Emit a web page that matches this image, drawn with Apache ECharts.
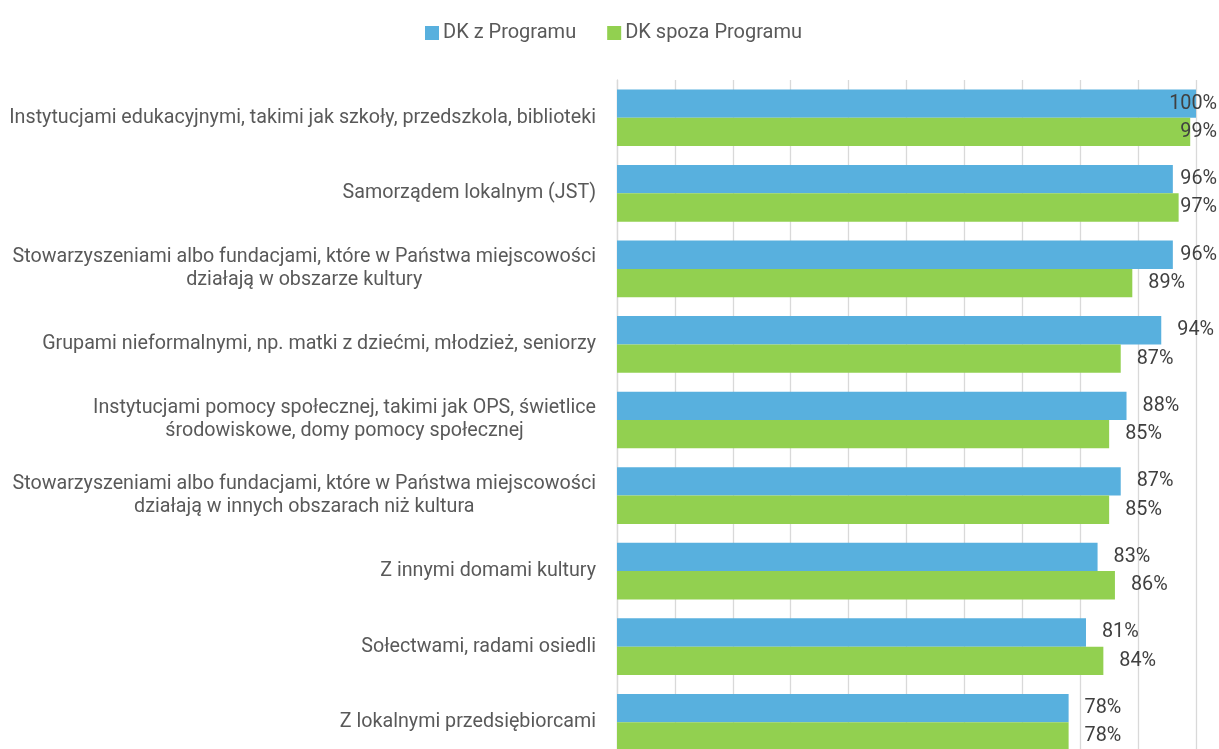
<!DOCTYPE html>
<html>
<head>
<meta charset="utf-8">
<script src="https://cdn.jsdelivr.net/npm/echarts@6/dist/echarts.min.js"></script>
<style>
html,body{margin:0;padding:0;background:#fff;}
#chart{width:1219px;height:749px;}
</style>
</head>
<body>
<div id="chart"></div>
<script>
var seriesNames = ['DK z Programu', 'DK spoza Programu'];
var categories = [
  'Instytucjami edukacyjnymi, takimi jak szkoły, przedszkola, biblioteki',
  'Samorządem lokalnym (JST)',
  'Stowarzyszeniami albo fundacjami, które w Państwa miejscowości\ndziałają w obszarze kultury',
  'Grupami nieformalnymi, np. matki z dziećmi, młodzież, seniorzy',
  'Instytucjami pomocy społecznej, takimi jak OPS, świetlice\nśrodowiskowe, domy pomocy społecznej',
  'Stowarzyszeniami albo fundacjami, które w Państwa miejscowości\ndziałają w innych obszarach niż kultura',
  'Z innymi domami kultury',
  'Sołectwami, radami osiedli',
  'Z lokalnymi przedsiębiorcami'
];
var valuesProgram = [100, 96, 96, 94, 88, 87, 83, 81, 78];
var valuesOutside = [99, 97, 89, 87, 85, 85, 86, 84, 78];
var xTicks = [0, 10, 20, 30, 40, 50, 60, 70, 80, 90, 100];

var FONT = 'Roboto, "Liberation Sans", sans-serif';
var LABEL_DIST = 16;
var RIGHT_LIMIT = 1217;

// calibrate font sizes so text widths match the reference layout
var cv = document.createElement('canvas').getContext('2d');
function fitSize(text, targetWidth) {
  cv.font = '100px ' + FONT;
  return Math.round(100 * targetWidth / cv.measureText(text).width * 10) / 10;
}
var CAT_SIZE = fitSize(categories[0], 586);
var VAL_SIZE = fitSize('100%', 48);
var LEG_SIZE = fitSize(seriesNames[0] + seriesNames[1], 133 + 177);

var chart = echarts.init(document.getElementById('chart'), null, {renderer: 'canvas'});

function catFormatter(v) {
  return v.split('\n').map(function (l) { return '{c|' + l + '}'; }).join('\n');
}

function makeData(vals, offsets) {
  return vals.map(function (v, i) {
    var d = {value: v};
    if (offsets) d.label = {offset: [offsets[i], 0]};
    return d;
  });
}

function valueLabel() {
  return {
    show: true, position: 'right', distance: LABEL_DIST,
    fontFamily: FONT, fontSize: VAL_SIZE, color: '#404040',
    formatter: function (p) { return Math.round(p.value) + '%'; }
  };
}

function buildOption(off1, off2) {
  return {
    animation: false,
    textStyle: {fontFamily: FONT},
    legend: {
      data: seriesNames,
      top: 23,
      left: 425,
      padding: 0,
      itemWidth: 14,
      itemHeight: 14,
      itemGap: 31,
      icon: 'rect',
      textStyle: {fontFamily: FONT, fontSize: LEG_SIZE, color: '#595959', padding: [0, 0, 0, -1]}
    },
    grid: {left: 617, right: 23, top: 80, height: 680, outerBoundsMode: 'none', containLabel: false},
    xAxis: {
      type: 'value',
      min: xTicks[0],
      max: xTicks[xTicks.length - 1],
      interval: 10,
      axisLabel: {show: false},
      axisLine: {show: false},
      axisTick: {show: false},
      splitLine: {show: true, lineStyle: {color: '#d9d9d9', width: 1.3}}
    },
    yAxis: {
      type: 'category',
      inverse: true,
      data: categories,
      axisLine: {show: true, lineStyle: {color: '#d9d9d9', width: 1.3}},
      axisTick: {show: false},
      axisLabel: {
        margin: 21,
        fontFamily: FONT,
        fontSize: CAT_SIZE,
        color: '#595959',
        lineHeight: 23,
        formatter: catFormatter,
        rich: {c: {align: 'center', fontFamily: FONT, fontSize: CAT_SIZE, color: '#595959', lineHeight: 23}}
      }
    },
    series: [
      {
        name: seriesNames[0],
        type: 'bar',
        data: makeData(valuesProgram, off1),
        barGap: '0%',
        barCategoryGap: '25%',
        itemStyle: {color: '#58B0DE'},
        label: valueLabel()
      },
      {
        name: seriesNames[1],
        type: 'bar',
        data: makeData(valuesOutside, off2),
        barGap: '0%',
        barCategoryGap: '25%',
        itemStyle: {color: '#92D050'},
        label: valueLabel()
      }
    ]
  };
}

chart.setOption(buildOption(null, null));

// Clamp value labels so they do not run past the right edge (as in the reference)
function offsets(vals) {
  cv.font = VAL_SIZE + 'px ' + FONT;
  return vals.map(function (v) {
    var px = chart.convertToPixel({gridIndex: 0}, [v, 0])[0];
    var w = cv.measureText(Math.round(v) + '%').width;
    var end = px + LABEL_DIST + w;
    return end > RIGHT_LIMIT ? RIGHT_LIMIT - end : 0;
  });
}
chart.setOption(buildOption(offsets(valuesProgram), offsets(valuesOutside)));
</script>
</body>
</html>
